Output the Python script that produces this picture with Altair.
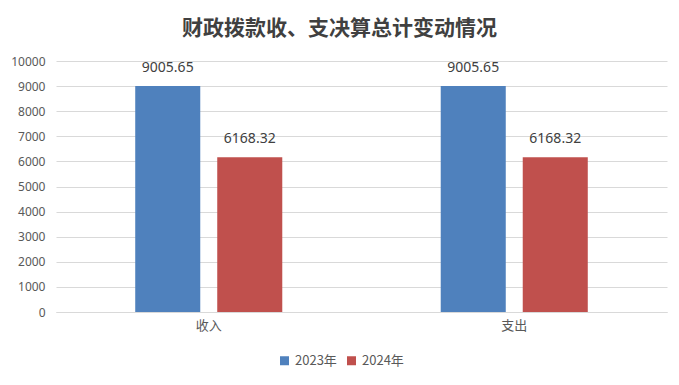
import altair as alt
import pandas as pd

categories = ["收入", "收入", "支出", "支出"]
years = ["2023年", "2024年", "2023年", "2024年"]
values = [9005.65, 6168.32, 9005.65, 6168.32]
y_ticks = [0, 1000, 2000, 3000, 4000, 5000, 6000, 7000, 8000, 9000, 10000]

df = pd.DataFrame({"类别": categories, "年份": years, "金额": values})
df["标签"] = df["金额"].map(lambda v: f"{v:.2f}")

colors = ["#4F81BD", "#C0504D"]
font = "Noto Sans"
cjk = "Noto Sans CJK SC"

x = alt.X("类别:N", sort=["收入", "支出"], title=None,
          scale=alt.Scale(paddingInner=0, paddingOuter=0),
          axis=alt.Axis(labelAngle=0, labelFont=cjk, labelFontSize=13, labelColor="#595959",
                        domainColor="#D9D9D9", ticks=False, grid=False, labelPadding=7))
xoff = alt.XOffset("年份:N", sort=["2023年", "2024年"],
                   scale=alt.Scale(paddingInner=0.207, paddingOuter=0.966))
y = alt.Y("金额:Q", title=None,
          scale=alt.Scale(domain=[0, 10000], nice=False),
          axis=alt.Axis(values=y_ticks, format="d", labelOverlap=False,
                        labelFont=font, labelFontSize=12, labelColor="#595959",
                        domain=False, ticks=False, labelPadding=11, gridColor="#D9D9D9"))

base = alt.Chart(df).encode(x=x, xOffset=xoff, y=y)

bars = base.mark_bar().encode(
    color=alt.Color("年份:N", sort=["2023年", "2024年"],
                    scale=alt.Scale(range=colors),
                    legend=alt.Legend(title=None, orient="none", direction="horizontal",
                                      legendX=222, legendY=293, symbolType="square",
                                      symbolSize=81, symbolStrokeWidth=0,
                                      labelFont=cjk, labelFontSize=13, labelColor="#595959",
                                      columnPadding=8, labelOffset=4)),
)

text = base.mark_text(dy=-18, font=font, fontSize=14, color="#404040").encode(
    text="标签:N"
)

chart = (bars + text).properties(
    width=611, height=251,
    padding={"left": 48, "top": 53, "right": 4, "bottom": 65},
    autosize=alt.AutoSizeParams(type="none"),
    background="white",
    title=alt.TitleParams("财政拨款收、支决算总计变动情况", font=cjk, fontSize=21,
                          fontWeight="bold", color="#404040", anchor="middle",
                          dx=-22, offset=16),
).configure_view(strokeWidth=0, stroke=None).configure_axisY(
    domain=False
).configure_axisX(grid=False)

chart.save("out.html", embed_options={"renderer": "svg", "actions": False})
